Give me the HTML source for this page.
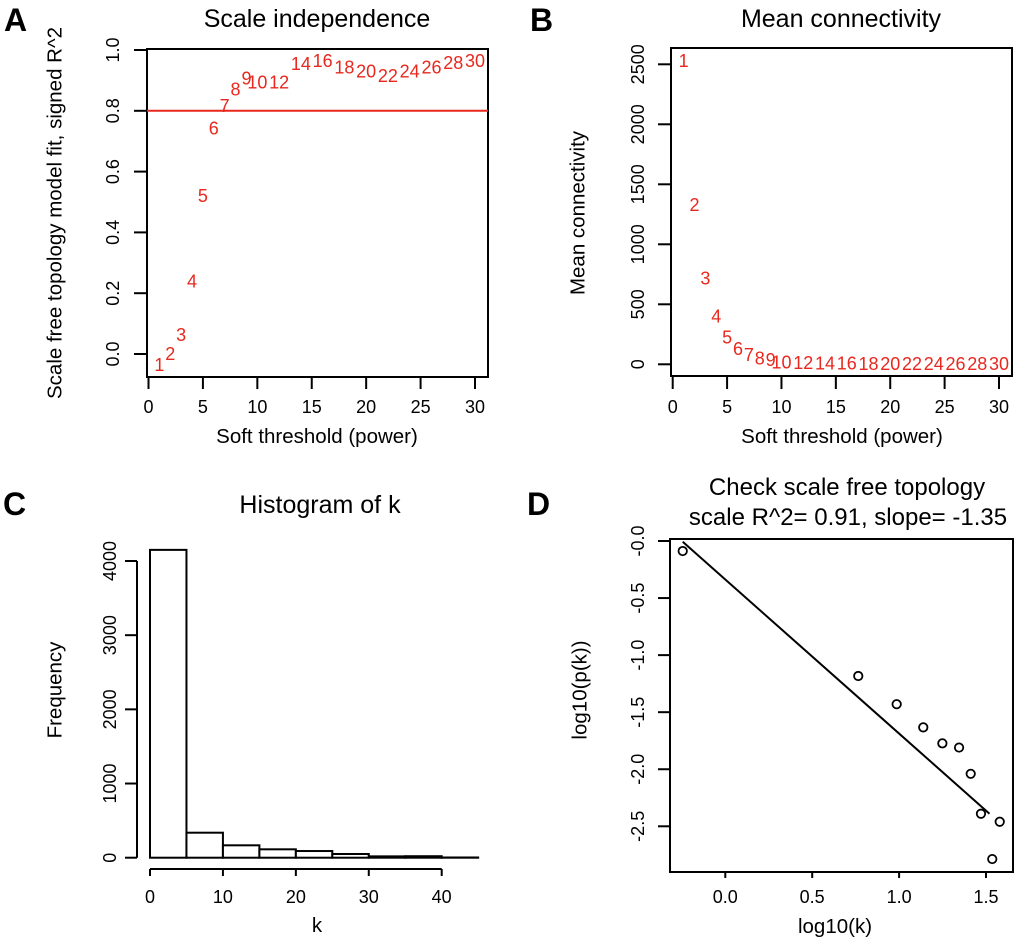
<!DOCTYPE html>
<html><head><meta charset="utf-8"><style>
html,body{margin:0;padding:0;background:#fff;}
svg{display:block;font-family:"Liberation Sans",Arial,sans-serif;}
</style></head><body>
<svg id="fig" width="1020" height="949" viewBox="0 0 1020 949" xmlns="http://www.w3.org/2000/svg"></svg>
<script>
// ---- Panel A data ----
const powers = [1,2,3,4,5,6,7,8,9,10,12,14,16,18,20,22,24,26,28,30];
const fitR2 = [-0.036,0.0,0.062,0.238,0.52,0.742,0.815,0.87,0.907,0.893,0.893,0.954,0.964,0.942,0.93,0.915,0.93,0.942,0.958,0.964];
const aYTicks = [0.0,0.2,0.4,0.6,0.8,1.0];
const aXTicks = [0,5,10,15,20,25,30];
const cutoff = 0.8;
// ---- Panel B data ----
const meanK = [2527,1327,717,397,222,128,78,50,36,17,10,7,5,4,3,3,2,2,2,2];
const bYTicks = [0,500,1000,1500,2000,2500];
// ---- Panel C data ----
const binEdges = [0,5,10,15,20,25,30,35,40,45];
const binCounts = [4150,337,167,113,90,50,18,20,3];
const cYTicks = [0,1000,2000,3000,4000];
const cXTicks = [0,10,20,30,40];
// ---- Panel D data ----
const logK = [-0.245,0.765,0.986,1.139,1.249,1.345,1.412,1.471,1.579,1.536];
const logPK = [-0.088,-1.183,-1.43,-1.633,-1.773,-1.81,-2.04,-2.39,-2.46,-2.787];
const dXTicks = [0.0,0.5,1.0,1.5];
const dYTicks = [0.0,-0.5,-1.0,-1.5,-2.0,-2.5];
const fitIntercept = -0.3375;
const fitSlope = -1.35;
const fitRange = [-0.245,1.52];

const NS="http://www.w3.org/2000/svg";
const svg=document.getElementById('fig');
function el(tag,attrs,parent,text){const e=document.createElementNS(NS,tag);for(const k in attrs)e.setAttribute(k,attrs[k]);if(text!==undefined)e.textContent=text;(parent||svg).appendChild(e);return e;}
function lin(d0,d1,r0,r1){return v=>r0+(v-d0)*(r1-r0)/(d1-d0);}
function fmt1(v){return (v===0&&1/v<0)?'-0.0':v.toFixed(1);}

function panelLetter(t,x,y){const e=el('text',{x:x,y:y,'font-size':32,'font-weight':'bold'},svg,t);

}
function txt(t,x,y,size,name,extra){const a={x:x,y:y,'font-size':size,'text-anchor':'middle',fill:'#000'};Object.assign(a,extra||{});const e=el('text',a,svg,t);

return e;}
function vtxt(t,cx,cy,size,name){const e=el('text',{x:0,y:0,'font-size':size,'text-anchor':'middle','dominant-baseline':'central',transform:`translate(${cx},${cy}) rotate(-90)`},svg,t);

return e;}
function line(x1,y1,x2,y2,name,stroke,w){const e=el('line',{x1,y1,x2,y2,stroke:stroke||'#000','stroke-width':w||2});

return e;}
function box(x0,y0,x1,y1,name){const e=el('rect',{x:x0,y:y0,width:x1-x0,height:y1-y0,fill:'none',stroke:'#000','stroke-width':2});

}

// ===== Panel A =====
panelLetter('A',4,31);
txt('Scale independence',317,27,25,'panel-a-title');
box(147,49,488,377,'panel-a-plot-box');
{const X=lin(0,30,148.5,475),Y=lin(0,1,354,50);
aYTicks.forEach(v=>{line(134,Y(v),147,Y(v),'a-y-tick');vtxt(v.toFixed(1),113,Y(v),18,'a-y-tick-label');});
aXTicks.forEach(v=>{line(X(v),377,X(v),389,'a-x-tick');txt(String(v),X(v),413,18,'a-x-tick-label');});
line(147,Y(cutoff),488,Y(cutoff),'r2-cutoff-line','#e8281e',2);
powers.forEach((p,i)=>{txt(String(p),X(p),Y(fitR2[i]),18,'a-power-label',{fill:'#e8281e','dominant-baseline':'central'});});
txt('Soft threshold (power)',317,443,20.5,'a-x-axis-title');
vtxt('Scale free topology model fit, signed R^2',55,213,20.5,'a-y-axis-title');}

// ===== Panel B =====
panelLetter('B',530,31);
txt('Mean connectivity',841,27,25,'panel-b-title');
box(671,48,1012,376,'panel-b-plot-box');
{const X=lin(0,30,672.7,999),Y=lin(0,2500,364.3,64.3);
bYTicks.forEach(v=>{line(658,Y(v),671,Y(v),'b-y-tick');vtxt(String(v),638,Y(v),18,'b-y-tick-label');});
aXTicks.forEach(v=>{line(X(v),376,X(v),389,'b-x-tick');txt(String(v),X(v),413,18,'b-x-tick-label');});
powers.forEach((p,i)=>{txt(String(p),X(p),Y(meanK[i]),18,'b-power-label',{fill:'#e8281e','dominant-baseline':'central'});});
txt('Soft threshold (power)',842,443,20.5,'b-x-axis-title');
vtxt('Mean connectivity',578,213,20.5,'b-y-axis-title');}

// ===== Panel C =====
panelLetter('C',3,515);
txt('Histogram of k',320,513,25,'panel-c-title');
{const X=lin(0,40,150,441.7),Y=lin(0,4000,857.7,561);
line(137,Y(0),137,Y(4000),'c-y-axis-line');
cYTicks.forEach(v=>{line(125,Y(v),137,Y(v),'c-y-tick');vtxt(String(v),110,Y(v),18,'c-y-tick-label');});
line(X(0),869,X(40),869,'c-x-axis-line');
cXTicks.forEach(v=>{line(X(v),869,X(v),876,'c-x-tick');txt(String(v),X(v),903,18,'c-x-tick-label');});
binCounts.forEach((c,i)=>{const x0=X(binEdges[i]),x1=X(binEdges[i+1]);const r=el('rect',{x:x0,y:Y(c),width:x1-x0,height:Y(0)-Y(c),fill:'#fff',stroke:'#000','stroke-width':2});

});
txt('k',317,932,20.5,'c-x-axis-title');
vtxt('Frequency',55,690,20.5,'c-y-axis-title');}

// ===== Panel D =====
panelLetter('D',527,515);
txt('Check scale free topology',847,495,24,'panel-d-title');
txt('scale R^2= 0.91, slope= -1.35',848,525,24,'panel-d-subtitle');
box(670,539,1013,872,'panel-d-plot-box');
{const X=lin(0,1.5,725.3,986),Y=lin(0,-2.5,541,826.3);
dYTicks.forEach(v=>{line(658,Y(v),670,Y(v),'d-y-tick');vtxt(fmt1(v===0?-0:v),638,Y(v),18,'d-y-tick-label');});
dXTicks.forEach(v=>{line(X(v),872,X(v),878,'d-x-tick');txt(v.toFixed(1),X(v),903,18,'d-x-tick-label');});
line(X(fitRange[0]),Y(fitIntercept+fitSlope*fitRange[0]),X(fitRange[1]),Y(fitIntercept+fitSlope*fitRange[1]),'fit-line','#000',2);
logK.forEach((k,i)=>{const c=el('circle',{cx:X(k),cy:Y(logPK[i]),r:4.2,fill:'none',stroke:'#000','stroke-width':1.8});

});
txt('log10(k)',835,933,20.5,'d-x-axis-title');
vtxt('log10(p(k))',580,690,20.5,'d-y-axis-title');}
</script>
</body></html>
